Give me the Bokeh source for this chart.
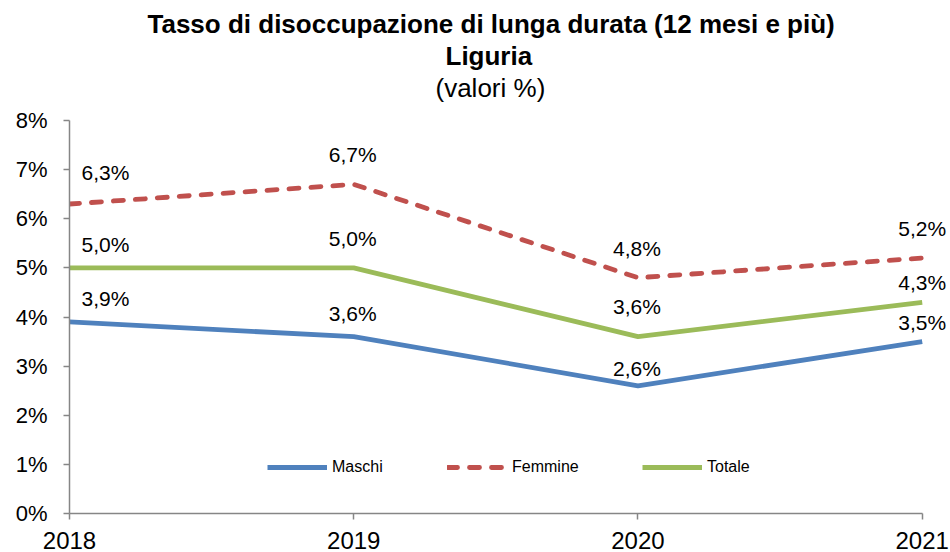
from bokeh.plotting import figure
from bokeh.models import ColumnDataSource, Range1d, FixedTicker, Legend, LegendItem, Title
from bokeh.core.properties import value
from bokeh.embed import file_html
from bokeh.resources import INLINE

# ---- data ----
years = [2018, 2019, 2020, 2021]
maschi = [3.9, 3.6, 2.6, 3.5]
femmine = [6.3, 6.7, 4.8, 5.2]
totale = [5.0, 5.0, 3.6, 4.3]
series_names = ["Maschi", "Femmine", "Totale"]
y_ticks = [0, 1, 2, 3, 4, 5, 6, 7, 8]
y_tick_labels = ["0%", "1%", "2%", "3%", "4%", "5%", "6%", "7%", "8%"]
title_line1 = "Tasso di disoccupazione di lunga durata (12 mesi e più)"
title_line2 = "Liguria"
title_line3 = "(valori %)"

# ---- style ----
FONT = "Liberation Sans"
C_M, C_F, C_T = "#4F81BD", "#C0504D", "#9BBB59"
AXIS_C = "#868686"

# label pixel offsets (layout only)
label_dx = [36, -1, -1, 0]
dy_m = [-23, -23, -17, -19]
dy_f = [-32, -30, -29, -30]
dy_t = [-23, -29, -30, -20]

p = figure(width=950, height=552, output_backend="svg", toolbar_location=None,
           x_range=Range1d(2018, 2021.096), y_range=Range1d(0, 8),
           min_border_left=69, min_border_right=1, min_border_top=120, min_border_bottom=39)
p.title = None
p.outline_line_color = None
p.xgrid.visible = False
p.ygrid.visible = False

# axes
p.xaxis.ticker = FixedTicker(ticks=years)
p.xaxis.bounds = (2018, 2021)
p.yaxis.ticker = FixedTicker(ticks=y_ticks)
p.yaxis.major_label_overrides = {t: l for t, l in zip(y_ticks, y_tick_labels)}
for ax in (p.xaxis[0], p.yaxis[0]):
    ax.axis_line_color = AXIS_C
    ax.axis_line_width = 1.5
    ax.major_tick_line_color = AXIS_C
    ax.major_tick_line_width = 1.5
    ax.major_tick_in = 0
    ax.major_tick_out = 6
    ax.minor_tick_line_color = None
    ax.major_label_text_font = FONT
    ax.major_label_text_color = "black"
p.xaxis.major_label_text_font_size = "24px"
p.yaxis.major_label_text_font_size = "22px"
p.xaxis.major_label_standoff = 12
p.yaxis.major_label_standoff = 16

# lines
r_m = p.line(years, maschi, line_color=C_M, line_width=4.8, line_join="round")
r_f = p.line(years, femmine, line_color=C_F, line_width=4.8, line_dash="10 12",
             line_cap="round", line_join="round")
r_t = p.line(years, totale, line_color=C_T, line_width=4.8, line_join="round")


def fmt(v):
    return f"{v:.1f}%".replace(".", ",")


for vals, dys in ((maschi, dy_m), (femmine, dy_f), (totale, dy_t)):
    src = ColumnDataSource(dict(x=years, y=vals, text=[fmt(v) for v in vals],
                                dx=label_dx, dy=dys))
    p.text(x="x", y="y", text="text", x_offset="dx", y_offset="dy", source=src,
           text_font=value(FONT), text_font_size="21px", text_color="black",
           text_align="center", text_baseline="middle")

# legends (one per item for exact placement)
for name, r, loc in zip(series_names, (r_m, r_f, r_t), ((198, 36), (378, 36), (573, 36))):
    lg = Legend(items=[LegendItem(label=name, renderers=[r])], location=loc,
                orientation="horizontal", padding=0, margin=0, spacing=0,
                glyph_width=60, glyph_height=20, label_standoff=5,
                label_text_font=FONT, label_text_font_size="16px",
                label_text_color="black", border_line_color=None,
                background_fill_alpha=0)
    p.add_layout(lg)

# titles (first added = closest to the plot); a small blank spacer keeps the gap
p.add_layout(Title(text=" ", text_font_size="10px", standoff=5), "above")
for txt, style, off in ((title_line3, "normal", 366), (title_line2, "bold", 376),
                        (title_line1, "bold", 78)):
    p.add_layout(Title(text=txt, align="left", text_font=FONT, text_font_size="26px",
                       text_font_style=style, text_color="black", offset=off,
                       standoff=0), "above")

open("out.html", "w").write(file_html(p, INLINE))
